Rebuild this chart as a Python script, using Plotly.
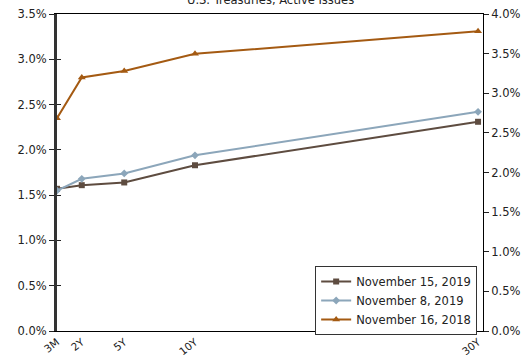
import plotly.graph_objects as go

# Maturities in years and their labels
maturity_years = [0.25, 2, 5, 10, 30]
maturity_labels = ["3M", "2Y", "5Y", "10Y", "30Y"]

# Yields (%) by curve date
nov_15_2019 = [1.57, 1.61, 1.64, 1.83, 2.31]
nov_8_2019 = [1.55, 1.68, 1.74, 1.94, 2.42]
nov_16_2018 = [2.35, 2.80, 2.87, 3.06, 3.31]

font = "DejaVu Sans, Verdana, sans-serif"

fig = go.Figure()

fig.add_trace(go.Scatter(
    x=maturity_years, y=nov_15_2019, name="November 15, 2019",
    mode="lines+markers",
    line=dict(color="#5E4C40", width=2),
    marker=dict(symbol="square", size=6, color="#5E4C40"),
))
fig.add_trace(go.Scatter(
    x=maturity_years, y=nov_8_2019, name="November 8, 2019",
    mode="lines+markers",
    line=dict(color="#8CA6BA", width=2),
    marker=dict(symbol="diamond", size=6, color="#8CA6BA"),
))
fig.add_trace(go.Scatter(
    x=maturity_years, y=nov_16_2018, name="November 16, 2018",
    mode="lines+markers",
    line=dict(color="#A45A12", width=2),
    marker=dict(symbol="triangle-up", size=7, color="#A45A12"),
))
# Secondary scale on the right (no visible data)
fig.add_trace(go.Scatter(
    x=[maturity_years[0]], y=[0], yaxis="y2", mode="markers",
    marker=dict(opacity=0), showlegend=False, hoverinfo="skip",
))
# Inner tick marks for the left axis
fig.add_trace(go.Scatter(
    x=[maturity_years[0]], y=[0], yaxis="y3", mode="markers",
    marker=dict(opacity=0), showlegend=False, hoverinfo="skip",
))

fig.update_layout(
    width=527, height=358,
    margin=dict(l=57, r=44, t=14, b=27),
    paper_bgcolor="white", plot_bgcolor="white",
    font=dict(family=font, size=11.5, color="#222"),
    showlegend=True,
    legend=dict(
        x=0.606, y=0.205, xanchor="left", yanchor="top",
        bgcolor="white", bordercolor="#333", borderwidth=1,
        font=dict(family=font, size=11.5, color="#222"),
        tracegroupgap=0, itemwidth=30,
    ),
    xaxis=dict(
        range=[0.25, 30.35], automargin=False,
        tickvals=maturity_years, ticktext=maturity_labels,
        tickangle=-38,
        showgrid=False, zeroline=False,
        showline=True, linecolor="black", linewidth=1, mirror=True,
        ticks="", tickfont=dict(size=10.5),
    ),
    yaxis=dict(
        range=[0, 3.5], dtick=0.5, tickformat=".1f", ticksuffix="%",
        automargin=False,
        showgrid=False, zeroline=False,
        showline=True, linecolor="#333", linewidth=3,
        ticks="outside", ticklen=5, tickcolor="#222", tickwidth=1,
    ),
    yaxis3=dict(
        range=[0, 3.5], dtick=0.5, overlaying="y", side="left",
        automargin=False,
        showgrid=False, zeroline=False, showticklabels=False,
        ticks="inside", ticklen=4, tickcolor="#222", tickwidth=1,
        showline=False,
    ),
    yaxis2=dict(
        range=[0, 4.0], dtick=0.5, tickformat=".1f", ticksuffix="%",
        overlaying="y", side="right", automargin=False,
        showgrid=False, zeroline=False,
        showline=True, linecolor="black", linewidth=1,
        ticks="outside", ticklen=5, tickcolor="#222", tickwidth=1,
    ),
    annotations=[dict(
        text="U.S. Treasuries, Active Issues",
        xref="paper", yref="paper", x=0.5, y=1,
        xanchor="center", yanchor="bottom", yshift=5,
        showarrow=False, font=dict(family=font, size=11.5, color="#222"),
    )],
)

fig.write_html("out.html")
